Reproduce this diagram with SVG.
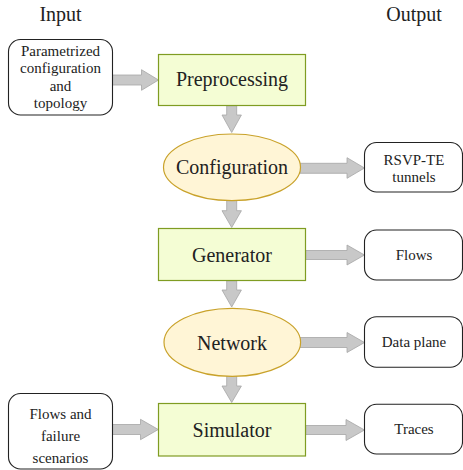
<svg xmlns="http://www.w3.org/2000/svg" width="463" height="470" viewBox="0 0 463 470">
<defs>
<style>
.proc{fill:#f4fdd4;stroke:#7f9c22;stroke-width:1.2}
.ell{fill:#fff5d6;stroke:#c9a22a;stroke-width:1.2}
.io{fill:#fff;stroke:#222;stroke-width:1.1}
.arr{fill:#c8c8c8;stroke:#a6a6a6;stroke-width:0.8}
</style>
</defs>
<rect width="463" height="470" fill="#fff"/>
<text x="60.5" y="21" font-family="Liberation Serif" font-size="20" fill="#222" text-anchor="middle" style="font-family:'Liberation Serif',serif">Input</text>
<text x="414" y="21" font-family="Liberation Serif" font-size="20" fill="#222" text-anchor="middle" style="font-family:'Liberation Serif',serif">Output</text>
<g id="connectors">
<path class="arr" d="M112.5,75 H141.5 V69.7 L158.5,80 L141.5,90.3 V85 H112.5 Z"/>
<path class="arr" d="M300,163.3 H347 V157.7 L364.5,168 L347,178.3 V173.3 H300 Z"/>
<path class="arr" d="M305.7,250.5 H347 V245 L364.5,255 L347,265 V259.5 H305.7 Z"/>
<path class="arr" d="M300,337.5 H347 V332.5 L364.5,342.5 L347,352.5 V347.5 H300 Z"/>
<path class="arr" d="M112.5,424.5 H140.5 V419.3 L158.3,429.5 L140.5,439.7 V434.5 H112.5 Z"/>
<path class="arr" d="M305.7,425.5 H346 V419.5 L364.5,430 L346,440.5 V434.5 H305.7 Z"/>
<path class="arr" d="M226.7,105.7 V115 H222 L231.7,132.5 L241.4,115 H236.7 V105.7 Z"/>
<path class="arr" d="M226.7,199 V210.7 H222 L231.7,227.5 L241.4,210.7 H236.7 V199 Z"/>
<path class="arr" d="M226.7,280.7 V290 H222 L231.7,307 L241.4,290 H236.7 V280.7 Z"/>
<path class="arr" d="M226.7,375 V386 H222 L231.7,402.5 L241.4,386 H236.7 V375 Z"/>
</g>
<g id="param">
<rect class="io" x="8.5" y="39.5" width="104" height="75.5" rx="12"/>
<text x="60.5" y="55.5" font-family="Liberation Serif" font-size="15" fill="#222" text-anchor="middle" style="font-family:'Liberation Serif',serif">Parametrized</text>
<text x="60.5" y="73" font-family="Liberation Serif" font-size="15" fill="#222" text-anchor="middle" style="font-family:'Liberation Serif',serif">configuration</text>
<text x="60.5" y="90.5" font-family="Liberation Serif" font-size="15" fill="#222" text-anchor="middle" style="font-family:'Liberation Serif',serif">and</text>
<text x="60.5" y="108" font-family="Liberation Serif" font-size="15" fill="#222" text-anchor="middle" style="font-family:'Liberation Serif',serif">topology</text>
</g>
<g id="preprocessing">
<rect class="proc" x="158.5" y="54.5" width="147" height="51"/>
<text x="232" y="86" font-family="Liberation Serif" font-size="20" fill="#222" text-anchor="middle" style="font-family:'Liberation Serif',serif">Preprocessing</text>
</g>
<g id="configuration">
<ellipse class="ell" cx="232" cy="167.3" rx="68.5" ry="33.3"/>
<text x="232" y="173.5" font-family="Liberation Serif" font-size="20" fill="#222" text-anchor="middle" style="font-family:'Liberation Serif',serif">Configuration</text>
</g>
<g id="rsvp">
<rect class="io" x="364.5" y="142.5" width="98" height="49.5" rx="12"/>
<text x="414" y="164.5" font-family="Liberation Serif" font-size="15" fill="#222" text-anchor="middle" style="font-family:'Liberation Serif',serif">RSVP-TE</text>
<text x="414" y="181.5" font-family="Liberation Serif" font-size="15" fill="#222" text-anchor="middle" style="font-family:'Liberation Serif',serif">tunnels</text>
</g>
<g id="generator">
<rect class="proc" x="158.5" y="228.5" width="147" height="52"/>
<text x="232" y="262" font-family="Liberation Serif" font-size="20" fill="#222" text-anchor="middle" style="font-family:'Liberation Serif',serif">Generator</text>
</g>
<g id="flows-out">
<rect class="io" x="364.5" y="230" width="98" height="50" rx="12"/>
<text x="414" y="260" font-family="Liberation Serif" font-size="15" fill="#222" text-anchor="middle" style="font-family:'Liberation Serif',serif">Flows</text>
</g>
<g id="network">
<ellipse class="ell" cx="232.3" cy="342.3" rx="68.3" ry="34"/>
<text x="232" y="350" font-family="Liberation Serif" font-size="20" fill="#222" text-anchor="middle" style="font-family:'Liberation Serif',serif">Network</text>
</g>
<g id="dataplane">
<rect class="io" x="364.5" y="316.7" width="98" height="50.5" rx="12"/>
<text x="414" y="347" font-family="Liberation Serif" font-size="15" fill="#222" text-anchor="middle" style="font-family:'Liberation Serif',serif">Data plane</text>
</g>
<g id="flows-in">
<rect class="io" x="8.5" y="393.5" width="104" height="75.5" rx="12"/>
<text x="60.5" y="419" font-family="Liberation Serif" font-size="15" fill="#222" text-anchor="middle" style="font-family:'Liberation Serif',serif">Flows and</text>
<text x="60.5" y="440.5" font-family="Liberation Serif" font-size="15" fill="#222" text-anchor="middle" style="font-family:'Liberation Serif',serif">failure</text>
<text x="60.5" y="463" font-family="Liberation Serif" font-size="15" fill="#222" text-anchor="middle" style="font-family:'Liberation Serif',serif">scenarios</text>
</g>
<g id="simulator">
<rect class="proc" x="158.5" y="403.5" width="147" height="52.5"/>
<text x="232" y="437" font-family="Liberation Serif" font-size="20" fill="#222" text-anchor="middle" style="font-family:'Liberation Serif',serif">Simulator</text>
</g>
<g id="traces">
<rect class="io" x="364.5" y="404.3" width="98" height="49.7" rx="12"/>
<text x="414" y="434" font-family="Liberation Serif" font-size="15" fill="#222" text-anchor="middle" style="font-family:'Liberation Serif',serif">Traces</text>
</g>
</svg>
